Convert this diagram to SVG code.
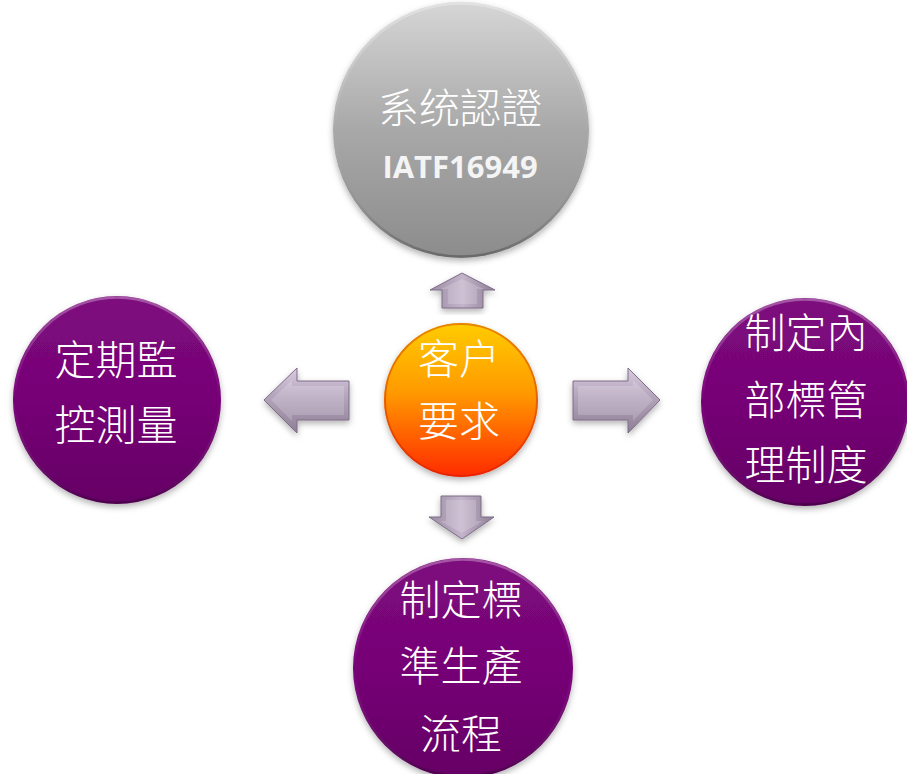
<svg xmlns="http://www.w3.org/2000/svg" width="907" height="774" viewBox="0 0 907 774">
<defs>
<linearGradient id="gGray" x1="0" y1="0" x2="0" y2="1">
<stop offset="0" stop-color="#d6d6d6"/><stop offset="0.5" stop-color="#a8a8a8"/><stop offset="1" stop-color="#8c8c8c"/>
</linearGradient>
<linearGradient id="gOrange" x1="0" y1="0" x2="0" y2="1">
<stop offset="0" stop-color="#ffcc00"/><stop offset="0.45" stop-color="#ff9a00"/><stop offset="1" stop-color="#ff2a00"/>
</linearGradient>
<linearGradient id="gPurple" x1="0" y1="0" x2="0" y2="1">
<stop offset="0" stop-color="#7e097e"/><stop offset="0.5" stop-color="#760476"/><stop offset="1" stop-color="#650065"/>
</linearGradient>
<linearGradient id="gRim" x1="0" y1="0" x2="0" y2="1">
<stop offset="0" stop-color="#ffffff" stop-opacity="0.3"/><stop offset="0.5" stop-color="#ffffff" stop-opacity="0"/><stop offset="1" stop-color="#000000" stop-opacity="0.25"/>
</linearGradient>
<linearGradient id="gArrowH" x1="0" y1="0" x2="0" y2="1">
<stop offset="0" stop-color="#d9cbe0"/><stop offset="0.45" stop-color="#b3a3bb"/><stop offset="1" stop-color="#8e7e96"/>
</linearGradient>
<linearGradient id="gArrowV" x1="0" y1="0" x2="1" y2="0">
<stop offset="0" stop-color="#9c8ca4"/><stop offset="0.5" stop-color="#c4b4cb"/><stop offset="1" stop-color="#8e7e96"/>
</linearGradient>
<filter id="sh" x="-20%" y="-20%" width="140%" height="140%">
<feDropShadow dx="0" dy="3" stdDeviation="3" flood-color="#000" flood-opacity="0.3"/>
</filter>
</defs>
<style>
.rim{fill:none;stroke:url(#gRim);stroke-width:2.5}
.cjk{font-family:"Noto Sans CJK TC","Noto Sans CJK SC",sans-serif;font-weight:300;font-size:41px;fill:#ffffff;text-anchor:middle}
.lat{font-family:"Open Sans","Noto Sans",sans-serif;font-weight:700;font-size:31px;fill:#f4f4f4;text-anchor:middle}
.arr{stroke:#7d6d85;stroke-width:1;filter:url(#sh)}
.bev{fill:#ffffff;fill-opacity:0.18;stroke:none}
</style>

<g id="connectors">
<polygon class="arr" fill="url(#gArrowV)" points="462,273 495,290 483,290 483,308 442,308 442,290 430,290"/>
<polygon class="bev" points="462,279 484,289 477,289 477,304 448,304 448,289 441,289"/>
<polygon class="arr" fill="url(#gArrowH)" points="264,400 297,368 297,381 349,381 349,420 297,420 297,433"/>
<polygon class="bev" points="271,400 292,380 292,386 344,386 344,415 292,415 292,421"/>
<polygon class="arr" fill="url(#gArrowH)" points="660,400 628,368 628,381 573,381 573,420 628,420 628,433"/>
<polygon class="bev" points="653,400 633,380 633,386 578,386 578,415 633,415 633,421"/>
<polygon class="arr" fill="url(#gArrowV)" points="462,539 494,517 481,517 481,496 441,496 441,517 429,517"/>
<polygon class="bev" points="462,533 483,521 476,521 476,500 446,500 446,521 440,521"/>
</g>

<g id="node-top">
<circle cx="461" cy="130" r="128" fill="url(#gGray)" filter="url(#sh)"/>
<circle class="rim" cx="461" cy="130" r="126.5"/>
<text class="cjk" x="460" y="123">系统認證</text>
<text class="lat" x="460" y="178">IATF16949</text>
</g>

<g id="node-center">
<circle cx="461" cy="400" r="77" fill="url(#gOrange)" filter="url(#sh)"/>
<circle cx="461" cy="400" r="76" fill="none" stroke="#c01800" stroke-opacity="0.4" stroke-width="2"/>
<text class="cjk" x="459" y="374">客户</text>
<text class="cjk" x="459" y="436">要求</text>
</g>

<g id="node-left">
<circle cx="117" cy="400" r="104" fill="url(#gPurple)" filter="url(#sh)"/>
<circle class="rim" cx="117" cy="400" r="102.5"/>
<text class="cjk" x="116" y="375">定期監</text>
<text class="cjk" x="116" y="440">控測量</text>
</g>

<g id="node-right">
<circle cx="805" cy="402" r="104" fill="url(#gPurple)" filter="url(#sh)"/>
<circle class="rim" cx="805" cy="402" r="102.5"/>
<text class="cjk" x="806" y="348">制定內</text>
<text class="cjk" x="806" y="415">部標管</text>
<text class="cjk" x="806" y="480">理制度</text>
</g>

<g id="node-bottom">
<circle cx="463" cy="668" r="110" fill="url(#gPurple)" filter="url(#sh)"/>
<circle class="rim" cx="463" cy="668" r="108.5"/>
<text class="cjk" x="461" y="615">制定標</text>
<text class="cjk" x="461" y="681">準生產</text>
<text class="cjk" x="461" y="749">流程</text>
</g>
</svg>
